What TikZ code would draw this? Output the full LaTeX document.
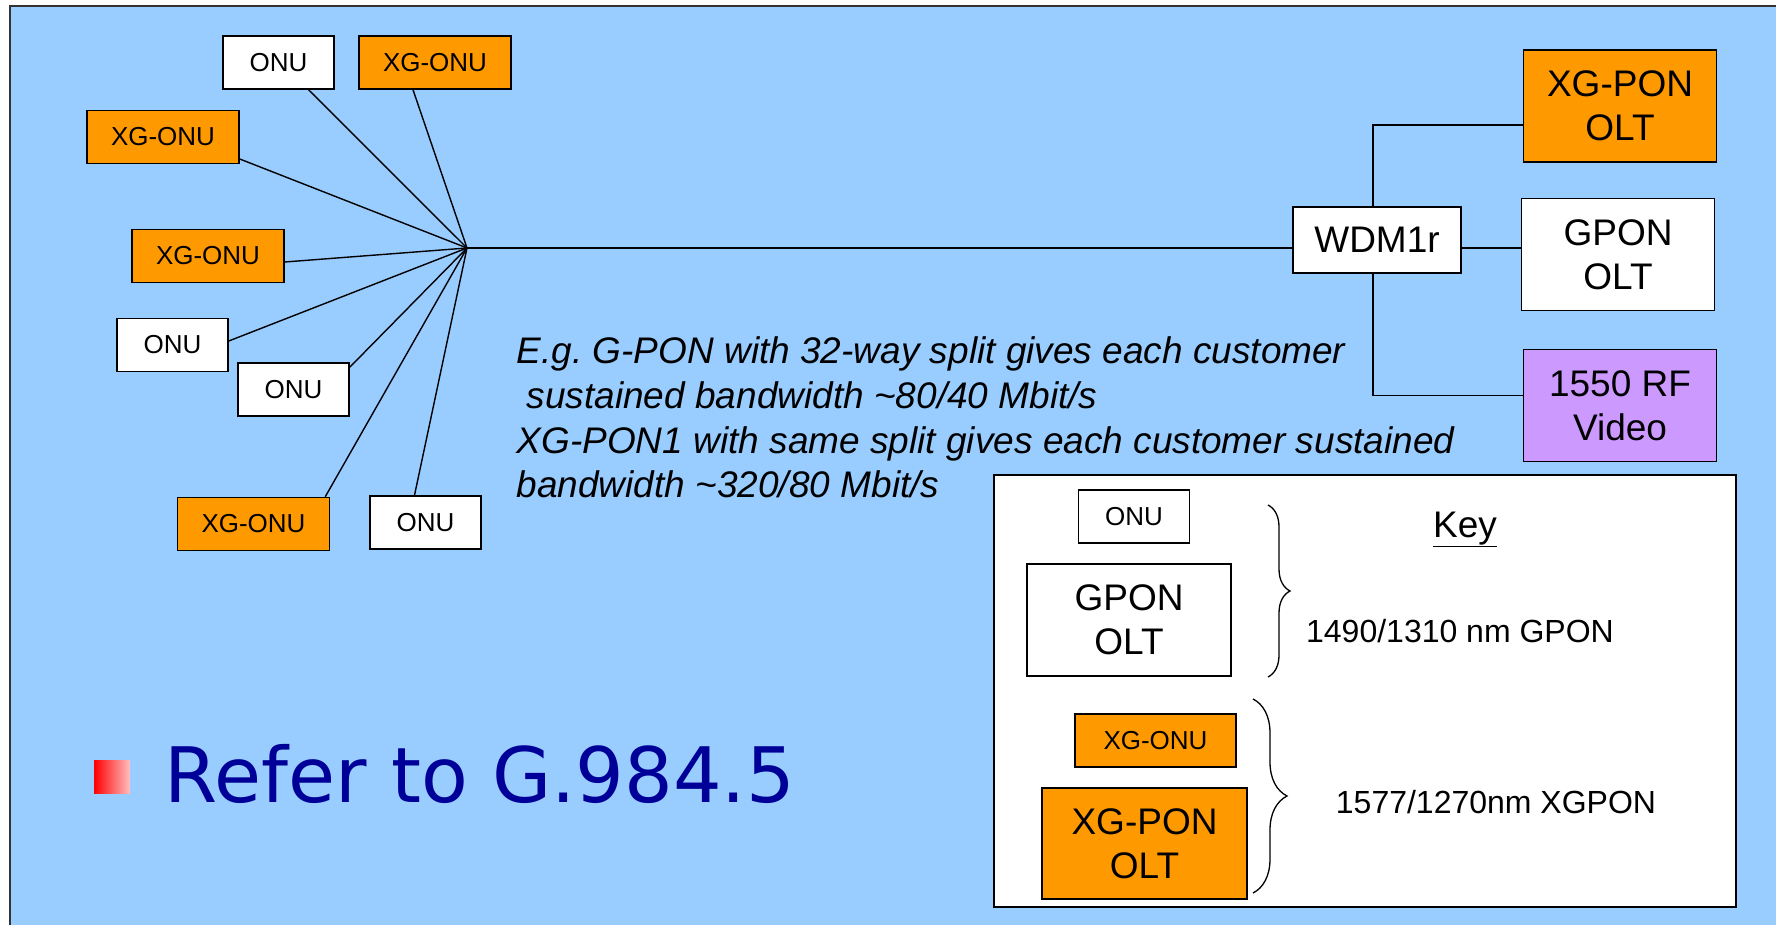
\documentclass[tikz,border=0pt]{standalone}
\usepackage{fontspec}
\setmainfont{Liberation Sans}
\newfontfamily\slidefont{DejaVu Sans}
\usetikzlibrary{decorations.pathreplacing}
\definecolor{slideblue}{HTML}{99CCFF}
\definecolor{xgorange}{HTML}{FF9900}
\definecolor{rfpurple}{HTML}{CC99FF}
\definecolor{referblue}{HTML}{000099}
\tikzset{
  box/.style={draw, line width=1.5pt, inner sep=0pt, align=center},
  onu/.style={box, fill=white, minimum width=111pt, minimum height=53pt,
    font=\fontsize{26}{30}\selectfont},
  xgonu/.style={onu, fill=xgorange, minimum width=152pt},
  olt/.style={box, fill=white, minimum width=193pt, minimum height=112pt,
    font=\fontsize{37}{44}\selectfont},
  xgolt/.style={olt, fill=xgorange},
  note/.style={anchor=base west, inner sep=0pt, font=\fontsize{37}{44}\selectfont\itshape},
  keytext/.style={anchor=base, inner sep=0pt, font=\fontsize{32}{38}\selectfont},
  keybrace/.style={decorate, decoration={brace, amplitude=#1}, line width=1.3pt}
}
\begin{document}
\begin{tikzpicture}[x=1pt, y=-1pt, line width=1.4pt]
  \useasboundingbox (0,0) rectangle (1776,925);
  % slide background
  \fill[white] (0,0) rectangle (1776,925);
  \fill[slideblue] (10,6) rectangle (1790,940);
  \draw[line width=1.5pt, black!80] (10,940) -- (10,6) -- (1790,6);

  % splitter and customer units
  \coordinate (hub) at (467,248);
  \node[onu]   (onuA) at (278.5,62.5) {ONU};
  \node[xgonu] (xgA)  at (435,62.5)   {XG-ONU};
  \node[xgonu] (xgB)  at (163,137)    {XG-ONU};
  \node[xgonu] (xgC)  at (208,256)    {XG-ONU};
  \node[onu]   (onuB) at (172.5,345)  {ONU};
  \node[onu]   (onuC) at (293.5,389.5) {ONU};
  \node[xgonu] (xgD)  at (253.5,524)  {XG-ONU};
  \node[onu]   (onuD) at (425.5,522.5) {ONU};

  \draw (hub) -- ([xshift=30pt]onuA.south);
  \draw (hub) -- ([xshift=-22pt]xgA.south);
  \draw (hub) -- ([yshift=-22pt]xgB.east);
  \draw (hub) -- ([yshift=-6pt]xgC.east);
  \draw (hub) -- ([yshift=4pt]onuB.east);
  \draw (hub) -- ([yshift=-5pt]onuC.north east);
  \draw (hub) -- ([xshift=-5pt]xgD.north east);
  \draw (hub) -- ([xshift=-11pt]onuD.north);

  % head end
  \node[box, fill=white, minimum width=168pt, minimum height=66pt,
    font=\fontsize{37}{44}\selectfont] (wdm) at (1377,240) {WDM1r};
  \node[xgolt] (xgolt) at (1620,106) {XG-PON\\OLT};
  \node[olt]   (golt)  at (1618,254.5) {GPON\\OLT};
  \node[olt, fill=rfpurple] (video) at (1620,405.5) {1550 RF\\Video};

  \draw (hub) -- (hub -| wdm.west);
  \draw (wdm.east |- hub) -- (golt.west |- hub);
  \draw ([xshift=-4pt]wdm.north) |- ([yshift=-19pt]xgolt.west);
  \draw ([xshift=-4pt]wdm.south) |- ([yshift=10pt]video.west);

  % bandwidth note
  \node[note] (noteA) at (516,363) {E.g.\ G-PON with 32-way split gives each customer};
  \node[note] (noteB) at (526,408) {sustained bandwidth \textasciitilde 80/40 Mbit/s};
  \node[note] (noteC) at (516,453) {XG-PON1 with same split gives each customer sustained};
  \node[note] (noteD) at (516,497) {bandwidth \textasciitilde 320/80 Mbit/s};

  % key
  \node[box, fill=white, minimum width=742pt, minimum height=432pt] (key) at (1365,691) {};
  \node[anchor=base, inner sep=0pt, font=\fontsize{37}{44}\selectfont] (keyhead) at (1465,537) {\underline{Key}};
  \node[onu]   (kOnu)   at (1134,516.5) {ONU};
  \node[olt, minimum width=204pt] (kGolt) at (1129,620) {GPON\\OLT};
  \node[xgonu, minimum width=161pt] (kXg) at (1155.5,740.5) {XG-ONU};
  \node[xgolt, minimum width=205pt, minimum height=111pt] (kXgolt) at (1144.5,843.5) {XG-PON\\OLT};
  \draw[keybrace=22pt] (1268,505) -- (1268,677);
  \draw[keybrace=34pt] (1253,699) -- (1253,893);
  \node[keytext] (kGpon) at (1460,642) {1490/1310 nm GPON};
  \node[keytext] (kXgpon) at (1496,813) {1577/1270nm XGPON};

  % bullet
  \shade[left color=red, right color=red!25] (94,760) rectangle (130,793);
  \node[anchor=base west, inner sep=0pt, text=referblue,
    font=\slidefont\fontsize{76.5}{90}\selectfont] (refer) at (164,802) {Refer to G.984.5};
\end{tikzpicture}
\end{document}
